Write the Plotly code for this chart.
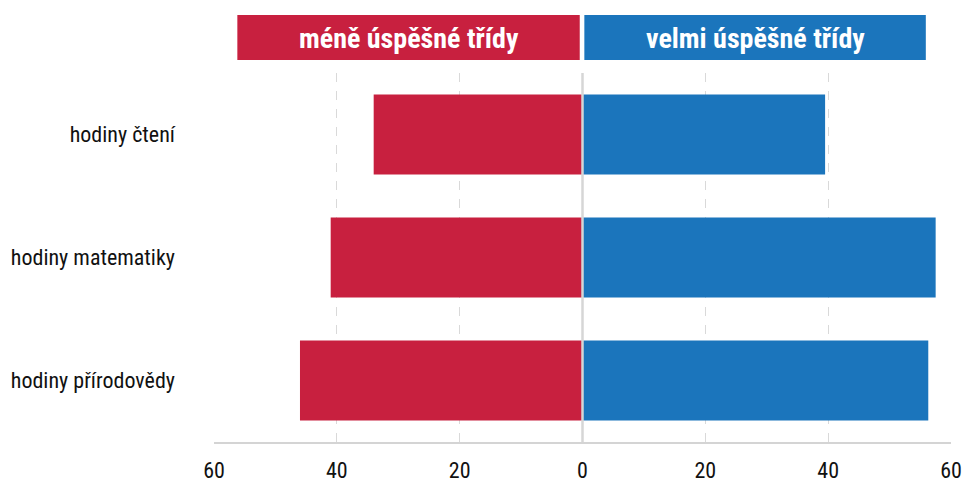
import plotly.graph_objects as go

categories = ["hodiny čtení", "hodiny matematiky", "hodiny přírodovědy"]
less_successful = [34, 41, 46]
very_successful = [39.5, 57.5, 56.3]
tick_vals = [-60, -40, -20, 0, 20, 40, 60]
tick_text = ["60", "40", "20", "0", "20", "40", "60"]
header_left = "méně úspěšné třídy"
header_right = "velmi úspěšné třídy"

RED = "#C8203F"
BLUE = "#1B75BC"
FONT = "Roboto Condensed, DejaVu Sans Condensed, sans-serif"

fig = go.Figure()
fig.add_trace(go.Bar(
    y=categories, x=[-v for v in less_successful], orientation="h",
    marker=dict(color=RED, line=dict(width=0)), width=0.65, name=header_left,
))
fig.add_trace(go.Bar(
    y=categories, x=very_successful, orientation="h",
    marker=dict(color=BLUE, line=dict(width=0)), width=0.65, name=header_right,
))

fig.update_layout(
    width=963, height=485,
    margin=dict(l=214, r=12, t=73, b=43, autoexpand=False),
    barmode="overlay",
    showlegend=False,
    plot_bgcolor="white", paper_bgcolor="white",
    font=dict(family=FONT, size=22, color="#111111"),
    xaxis=dict(
        range=[-60, 60], tickvals=tick_vals, ticktext=tick_text,
        showgrid=True, gridcolor="#d9d9d9", griddash="dash", gridwidth=1,
        zeroline=False, showline=True, linecolor="#d4d4d4", linewidth=1.5,
        ticks="", ticklabelstandoff=8, tickfont=dict(size=22),
        automargin=False, ticklabeloverflow="allow",
    ),
    yaxis=dict(
        autorange="reversed", ticks="", showgrid=False, zeroline=False,
        ticklabelstandoff=38, tickfont=dict(size=22), automargin=False,
    ),
)

# zero line on top of bars
fig.add_shape(type="line", xref="x", yref="paper", x0=0, x1=0, y0=0, y1=1,
              line=dict(color="#d6d6d6", width=2.5), layer="above")

# header boxes
ph = 485 - 73 - 43
def py(pix):
    return (485 - 43 - pix) / ph

fig.add_shape(type="rect", xref="x", yref="paper", x0=-56.2, x1=-0.45,
              y0=py(60), y1=py(15), fillcolor=RED, line=dict(width=0), layer="above")
fig.add_shape(type="rect", xref="x", yref="paper", x0=0.3, x1=55.9,
              y0=py(60), y1=py(15), fillcolor=BLUE, line=dict(width=0), layer="above")
fig.add_annotation(x=-28.3, xref="x", y=py(38), yref="paper", text="<b>" + header_left + "</b>",
                   xanchor="center", yanchor="middle",
                   showarrow=False, font=dict(family=FONT, size=28, color="white"))
fig.add_annotation(x=28.1, xref="x", y=py(38), yref="paper", text="<b>" + header_right + "</b>",
                   xanchor="center", yanchor="middle",
                   showarrow=False, font=dict(family=FONT, size=28, color="white"))

fig.write_html("out.html")
